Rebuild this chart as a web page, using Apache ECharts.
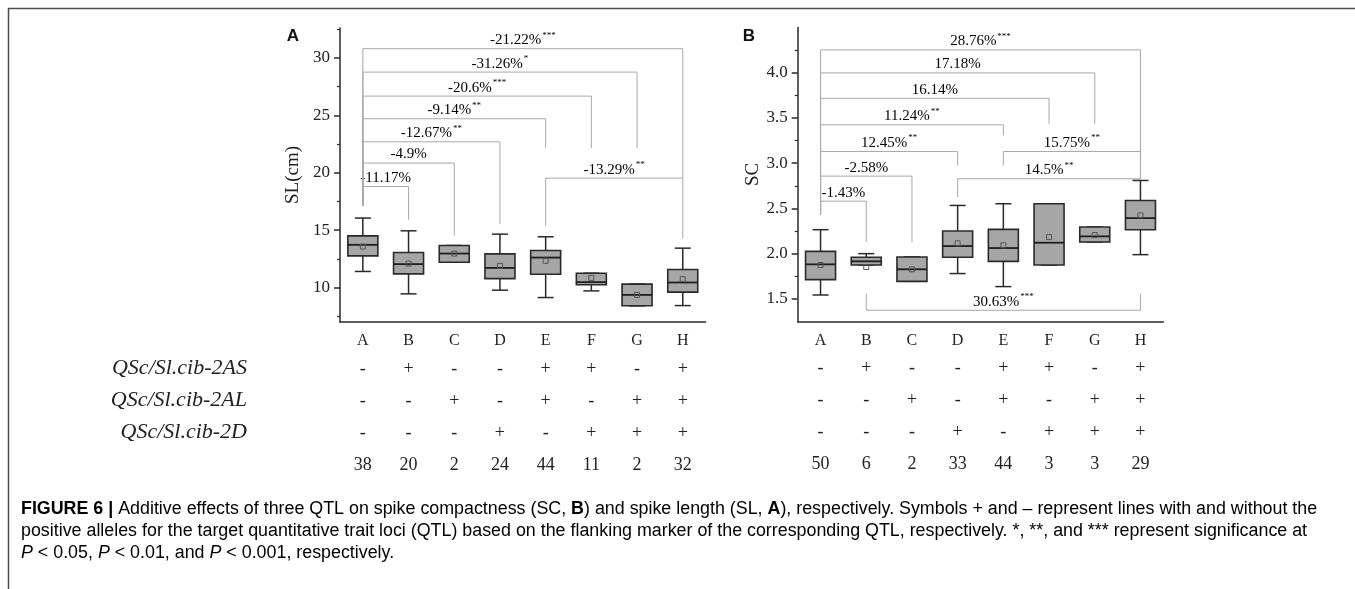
<!DOCTYPE html>
<html>
<head>
<meta charset="utf-8">
<script src="https://cdn.jsdelivr.net/npm/echarts@6/dist/echarts.min.js"></script>
<style>
html, body { margin: 0; padding: 0; background: #fff; }
#main { width: 1355px; height: 589px; }
</style>
</head>
<body>
<div id="main"></div>
<script>
// categories and QTL combination rows
var categories = ['A', 'B', 'C', 'D', 'E', 'F', 'G', 'H'];
var row2AS = ['-', '+', '-', '-', '+', '+', '-', '+'];
var row2AL = ['-', '-', '+', '-', '+', '-', '+', '+'];
var row2D = ['-', '-', '-', '+', '-', '+', '+', '+'];
var rowNames = ['QSc/Sl.cib-2AS', 'QSc/Sl.cib-2AL', 'QSc/Sl.cib-2D'];
var slCount = [38, 20, 2, 24, 44, 11, 2, 32];
var scCount = [50, 6, 2, 33, 44, 3, 3, 29];

// box values: [min, Q1, median, Q3, max]
var slBox = [
  [11.4, 12.76, 13.72, 14.5, 16.05],
  [9.45, 11.19, 12.04, 13.05, 14.94],
  [12.2, 12.2, 12.96, 13.66, 13.66],
  [9.77, 10.78, 11.71, 12.93, 14.65],
  [9.13, 11.16, 12.61, 13.22, 14.42],
  [9.71, 10.24, 10.47, 11.25, 11.25],
  [8.41, 8.41, 9.36, 10.3, 10.3],
  [8.43, 9.6, 10.44, 11.57, 13.43]
];
var slMean = [13.57, 12.09, 12.96, 11.89, 12.33, 10.84, 9.36, 10.73];
var scBox = [
  [1.543, 1.713, 1.882, 2.025, 2.265],
  [1.874, 1.874, 1.915, 1.96, 2.0],
  [1.694, 1.694, 1.827, 1.963, 1.963],
  [1.78, 1.96, 2.084, 2.25, 2.533],
  [1.636, 1.915, 2.062, 2.268, 2.552],
  [1.874, 1.874, 2.121, 2.552, 2.552],
  [2.128, 2.128, 2.191, 2.294, 2.294],
  [1.989, 2.265, 2.393, 2.588, 2.809]
];
var scMean = [1.874, 1.852, 1.827, 2.114, 2.092, 2.183, 2.205, 2.423];

// brackets: [from, to, line value, end of left leg, end of right leg]
var slBrackets = [
  [0, 1, 18.8, 17.14, 15.9],
  [0, 2, 20.84, 17.14, 14.5],
  [0, 3, 22.69, 17.14, 15.52],
  [0, 4, 24.7, 17.14, 22.14],
  [0, 5, 26.67, 17.14, 22.14],
  [0, 6, 28.76, 17.14, 22.14],
  [0, 7, 30.8, 17.14, 19.53],
  [4, 7, 19.53, 15.4, 14.3]
];
var slBracketText = ['-11.17%', '-4.9%', '-12.67%', '-9.14%', '-20.6%', '-31.26%', '-21.22%', '-13.29%'];
var slBracketStars = ['', '', '**', '**', '***', '*', '***', '**'];
var scBrackets = [
  [0, 1, 2.58, 2.434, 2.128],
  [0, 2, 2.857, 2.434, 2.128],
  [0, 3, 3.129, 2.434, 2.975],
  [0, 4, 3.424, 2.434, 3.306],
  [0, 5, 3.717, 2.434, 3.435],
  [0, 6, 3.998, 2.434, 3.435],
  [0, 7, 4.252, 2.434, 2.828],
  [4, 7, 3.129, 2.975, 2.828],
  [3, 7, 2.828, 2.625, 2.828],
  [1, 7, 1.374, 1.559, 1.559]
];
var scBracketText = ['-1.43%', '-2.58%', '12.45%', '11.24%', '16.14%', '17.18%', '28.76%', '15.75%', '14.5%', '30.63%'];
var scBracketStars = ['', '', '**', '**', '', '', '***', '**', '**', '***'];

// axis ticks
var slTicks = [10, 15, 20, 25, 30];
var slMinor = [7.5, 12.5, 17.5, 22.5, 27.5, 32.5];
var scTicks = [1.5, 2.0, 2.5, 3.0, 3.5, 4.0];
var scMinor = [1.75, 2.25, 2.75, 3.25, 3.75, 4.25];

var serif = 'Liberation Serif';
var dark = '#2a2a2a';

function boxItem(means) {
  return function (params, api) {
    var i = api.value(0);
    var p = function (v) { return api.coord([i, v]); };
    var lo = p(api.value(1)), q1 = p(api.value(2)), md = p(api.value(3));
    var q3 = p(api.value(4)), hi = p(api.value(5)), mn = p(means[params.dataIndex]);
    var x = lo[0], hw = 15, cw = 8;
    var ls = { stroke: dark, lineWidth: 1.5 };
    return {
      type: 'group',
      children: [
        { type: 'line', shape: { x1: x, y1: hi[1], x2: x, y2: q3[1] }, style: ls },
        { type: 'line', shape: { x1: x, y1: q1[1], x2: x, y2: lo[1] }, style: ls },
        { type: 'line', shape: { x1: x - cw, y1: hi[1], x2: x + cw, y2: hi[1] }, style: ls },
        { type: 'line', shape: { x1: x - cw, y1: lo[1], x2: x + cw, y2: lo[1] }, style: ls },
        { type: 'rect', shape: { x: x - hw, y: q3[1], width: hw * 2, height: q1[1] - q3[1] },
          style: { fill: '#a6a6a6', stroke: dark, lineWidth: 1.6 } },
        { type: 'line', shape: { x1: x - hw, y1: md[1], x2: x + hw, y2: md[1] }, style: { stroke: '#1e1e1e', lineWidth: 1.8 } },
        { type: 'rect', shape: { x: mn[0] - 2.5, y: mn[1] - 2.5, width: 5, height: 5 },
          style: { fill: 'none', stroke: '#555', lineWidth: 1 } }
      ]
    };
  };
}

function bracketItem(texts, stars) {
  return function (params, api) {
    var a = api.coord([api.value(0), api.value(2)]);
    var b = api.coord([api.value(1), api.value(2)]);
    var ae = api.coord([api.value(0), api.value(3)]);
    var be = api.coord([api.value(1), api.value(4)]);
    var k = params.dataIndex;
    var txt = '{a|' + texts[k] + '}' + (stars[k] ? '{s|' + stars[k] + '}' : '');
    return {
      type: 'group',
      children: [
        { type: 'polyline', shape: { points: [[a[0], ae[1]], a, b, [b[0], be[1]]] },
          style: { stroke: '#a9a9a9', lineWidth: 1, fill: 'none' } },
        { type: 'text', x: (a[0] + b[0]) / 2, y: a[1] - 1,
          style: {
            text: txt, align: 'center', verticalAlign: 'bottom',
            rich: {
              a: { fontFamily: serif, fontSize: 15, lineHeight: 17, color: '#222', verticalAlign: 'bottom' },
              s: { fontFamily: serif, fontSize: 9, lineHeight: 9, color: '#222', verticalAlign: 'top', padding: [0, 0, 0, 1] }
            }
          } }
      ]
    };
  };
}

function catLabel(counts) {
  return function (value, idx) {
    return '{c|' + value + '}\n{r|' + row2AS[idx] + '}\n{r|' + row2AL[idx] + '}\n{r|' + row2D[idx] + '}\n{r|' + counts[idx] + '}';
  };
}

var catRich = {
  c: { fontFamily: serif, fontSize: 16, lineHeight: 24, color: '#222' },
  r: { fontFamily: serif, fontSize: 18, lineHeight: 32, color: '#222' }
};

function xAxisOf(g, counts) {
  return {
    gridIndex: g, type: 'category', data: categories,
    axisLine: { lineStyle: { color: dark, width: 1.5 } },
    axisTick: { alignWithLabel: true, length: 5, lineStyle: { color: dark, width: 1.5 } },
    axisLabel: { interval: 0, margin: 7, formatter: catLabel(counts), rich: catRich }
  };
}

function yAxisOf(g, lo, hi, ticks, name, gap, digits) {
  return {
    gridIndex: g, type: 'value', min: lo, max: hi, position: 'left',
    name: name, nameLocation: 'middle', nameGap: gap,
    nameTextStyle: { fontFamily: serif, fontSize: 19, color: '#222' },
    axisLine: { show: true, lineStyle: { color: dark, width: 1.5 } },
    axisTick: { show: true, length: 6, customValues: ticks, lineStyle: { color: dark, width: 1.5 } },
    axisLabel: { customValues: ticks, margin: 10, fontFamily: serif, fontSize: 17, color: '#222',
      formatter: function (v) { return v.toFixed(digits); } },
    splitLine: { show: false }
  };
}

function minorAxisOf(g, lo, hi, ticks) {
  return {
    gridIndex: g, type: 'value', min: lo, max: hi, position: 'left', offset: 0,
    axisLine: { show: false },
    axisTick: { show: true, length: 3, customValues: ticks, lineStyle: { color: dark, width: 1.2 } },
    axisLabel: { show: false },
    splitLine: { show: false }
  };
}

var chart = echarts.init(document.getElementById('main'));

var headerTexts = rowNames.map(function (t, i) {
  return { type: 'text', x: 247, y: 368 + i * 32,
    style: { text: t, align: 'right', verticalAlign: 'middle', fontFamily: serif, fontStyle: 'italic', fontSize: 22, fill: '#222' } };
});

var capFont = 17.85;
var capRich = {
  b: { fontFamily: 'Liberation Sans', fontSize: capFont, fontWeight: 'bold', color: '#222' },
  t: { fontFamily: 'Liberation Sans', fontSize: capFont, color: '#3a3a3a' },
  i: { fontFamily: 'Liberation Sans', fontSize: capFont, fontStyle: 'italic', color: '#3a3a3a' }
};
var captionLines = [
  '{b|FIGURE 6 |}{t| Additive effects of three QTL on spike compactness (SC, }{b|B}{t|) and spike length (SL, }{b|A}{t|), respectively. Symbols + and \u2013 represent lines with and without the}',
  '{t|positive alleles for the target quantitative trait loci (QTL) based on the flanking marker of the corresponding QTL, respectively. *, **, and *** represent significance at}',
  '{i|P}{t| < 0.05, }{i|P}{t| < 0.01, and }{i|P}{t| < 0.001, respectively.}'
];
var captionTexts = captionLines.map(function (t, i) {
  return { type: 'text', x: 21, y: 509 + i * 22, style: { text: t, rich: capRich, verticalAlign: 'middle' } };
});

var option = {
  backgroundColor: '#fff',
  animation: false,
  grid: [
    { left: 340, top: 28, width: 365.6, height: 294, outerBoundsMode: 'none' },
    { left: 797.7, top: 27.5, width: 365.6, height: 294, outerBoundsMode: 'none' }
  ],
  xAxis: [xAxisOf(0, slCount), xAxisOf(1, scCount)],
  yAxis: [
    yAxisOf(0, 7, 32.6, slTicks, 'SL(cm)', 37, 0),
    minorAxisOf(0, 7, 32.6, slMinor),
    yAxisOf(1, 1.25, 4.5, scTicks, 'SC', 33, 1),
    minorAxisOf(1, 1.25, 4.5, scMinor)
  ],
  series: [
    { type: 'custom', xAxisIndex: 0, yAxisIndex: 0, clip: false, silent: true,
      renderItem: bracketItem(slBracketText, slBracketStars), data: slBrackets,
      encode: { x: [0, 1], y: [2, 3, 4] } },
    { type: 'custom', xAxisIndex: 1, yAxisIndex: 2, clip: false, silent: true,
      renderItem: bracketItem(scBracketText, scBracketStars), data: scBrackets,
      encode: { x: [0, 1], y: [2, 3, 4] } },
    { type: 'custom', xAxisIndex: 0, yAxisIndex: 0, silent: true,
      renderItem: boxItem(slMean),
      data: slBox.map(function (b, i) { return [i].concat(b); }),
      encode: { x: 0, y: [1, 2, 3, 4, 5] } },
    { type: 'custom', xAxisIndex: 1, yAxisIndex: 2, silent: true,
      renderItem: boxItem(scMean),
      data: scBox.map(function (b, i) { return [i].concat(b); }),
      encode: { x: 0, y: [1, 2, 3, 4, 5] } }
  ],
  graphic: [
    { type: 'line', shape: { x1: 8, y1: 8.5, x2: 1355, y2: 8.5 }, style: { stroke: '#4d4d4d', lineWidth: 1.5 } },
    { type: 'line', shape: { x1: 8.5, y1: 8, x2: 8.5, y2: 589 }, style: { stroke: '#4d4d4d', lineWidth: 1.5 } },
    { type: 'text', x: 293, y: 36, style: { text: 'A', align: 'center', verticalAlign: 'middle', fontFamily: 'Liberation Sans', fontWeight: 'bold', fontSize: 17, fill: '#111' } },
    { type: 'text', x: 749, y: 36, style: { text: 'B', align: 'center', verticalAlign: 'middle', fontFamily: 'Liberation Sans', fontWeight: 'bold', fontSize: 17, fill: '#111' } }
  ].concat(headerTexts, captionTexts)
};

chart.setOption(option);
</script>
</body>
</html>
